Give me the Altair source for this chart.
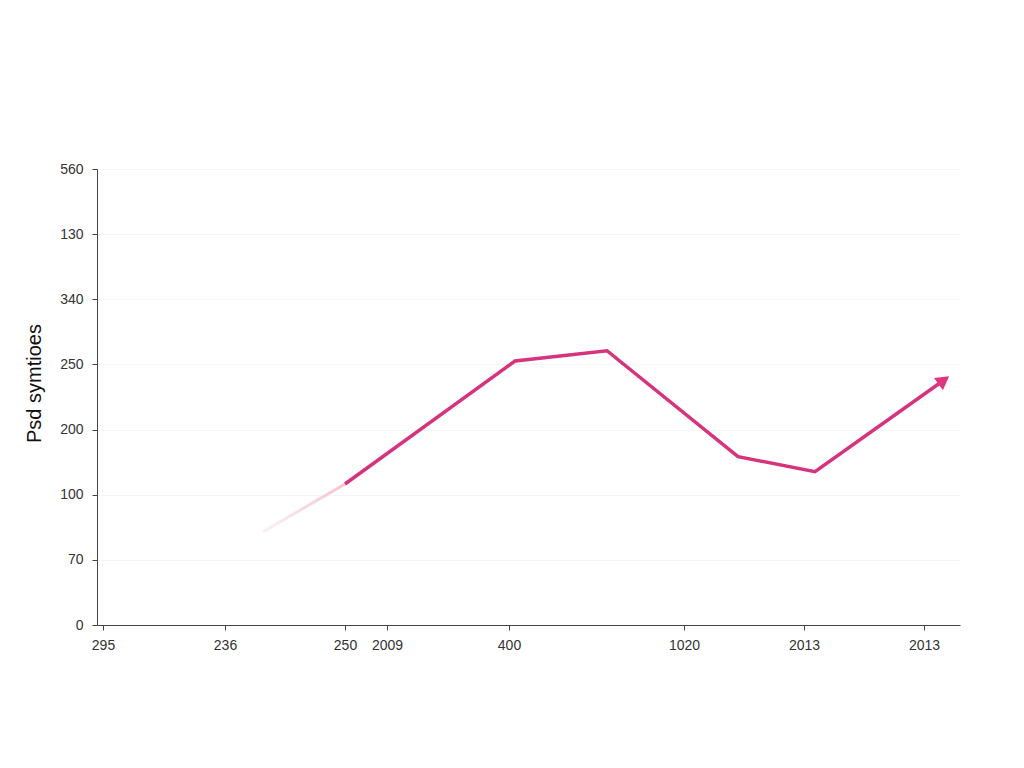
import altair as alt
import pandas as pd

# Faded lead-in segment
fade_x = [166, 248]
fade_y = [71.6, 108.2]

# Main series
main_x = [248, 418, 510, 641, 718, 845]
main_y = [108.2, 202.6, 210.5, 129.2, 117.7, 186.9]

# Axis ticks and labels
x_ticks = [6, 128, 248, 290, 412, 587, 707, 827]
x_labels = ["295", "236", "250", "2009", "400", "1020", "2013", "2013"]
y_ticks = [0, 50, 100, 150, 200, 250, 300, 350]
y_labels = ["0", "70", "100", "200", "250", "340", "130", "560"]
y_title = "Psd symtioes"

fade_df = pd.DataFrame({"x": fade_x, "y": fade_y})
main_df = pd.DataFrame({"x": main_x, "y": main_y})
tip_df = pd.DataFrame({"x": main_x[-1:], "y": main_y[-1:]})

def lab_expr(ticks, labels):
    t = ",".join(str(v) for v in ticks)
    l = ",".join("'" + s + "'" for s in labels)
    return f"[{l}][indexof([{t}], datum.value)]"

xscale = alt.Scale(domain=[0, 863], nice=False, zero=False)
yscale = alt.Scale(domain=[0, 350], nice=False)

xaxis = alt.Axis(values=x_ticks, labelExpr=lab_expr(x_ticks, x_labels), title=None,
                 grid=False, tickSize=5, labelPadding=8, labelFontSize=14,
                 labelColor="#333333", labelFont="Liberation Sans",
                 domainColor="#444444", tickColor="#444444", labelFlush=False)
yaxis = alt.Axis(values=y_ticks, labelExpr=lab_expr(y_ticks, y_labels), title=y_title,
                 grid=True, gridColor="#f4f4f4", gridWidth=1,
                 tickSize=5, labelPadding=9, labelFontSize=14,
                 labelColor="#333333", labelFont="Liberation Sans",
                 domainColor="#444444", tickColor="#444444",
                 titleFont="Liberation Sans", titleFontSize=20, titleFontWeight="normal",
                 titleColor="#111111", titleX=-63, titleY=214, titleAngle=270,
                 titleAlign="center", titleBaseline="middle", labelFlush=False)

fade = alt.Chart(fade_df).mark_line(
    strokeWidth=3,
    color=alt.Gradient(
        gradient="linear",
        stops=[alt.GradientStop(color="#fdf1f5", offset=0),
               alt.GradientStop(color="#f2c3d4", offset=1)],
        x1=0, x2=1, y1=1, y2=0,
    ),
).encode(
    x=alt.X("x:Q", scale=xscale, axis=xaxis),
    y=alt.Y("y:Q", scale=yscale, axis=yaxis),
)

line = alt.Chart(main_df).mark_line(strokeWidth=3.5, color="#d6337f", strokeJoin="miter").encode(
    x=alt.X("x:Q", scale=xscale),
    y=alt.Y("y:Q", scale=yscale),
)

tip = alt.Chart(tip_df).mark_point(shape="triangle", filled=True, size=230, angle=54,
                                   color="#e0367f", opacity=1).encode(
    x=alt.X("x:Q", scale=xscale),
    y=alt.Y("y:Q", scale=yscale),
)

chart = alt.layer(fade, line, tip).properties(
    width=863, height=456,
    autosize=alt.AutoSizeParams(type="none"),
    padding={"left": 89, "top": 161, "right": 40, "bottom": 120},
).configure(background="white").configure_view(stroke=None, strokeWidth=0)

chart.save("out.html", embed_options={"renderer": "svg", "actions": False})
